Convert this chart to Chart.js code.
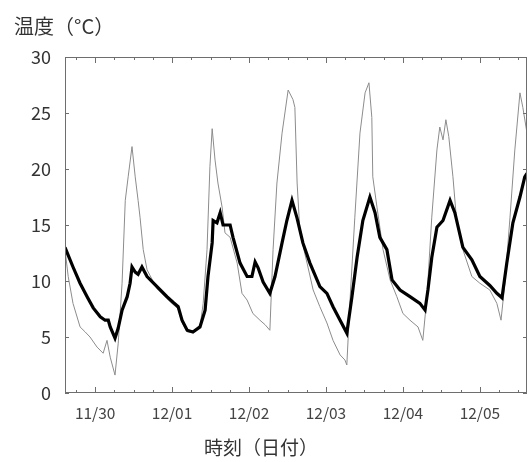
<!DOCTYPE html>
<html>
<head>
<meta charset="utf-8">
<script src="https://cdn.jsdelivr.net/npm/chart.js@4/dist/chart.umd.min.js"></script>
<style>
  body { margin: 0; background: #fff; }
  #wrap { position: relative; width: 529px; height: 462px; }
  .label { position: absolute; font-family: "Noto Sans CJK JP", sans-serif; color: #333; white-space: nowrap; }
  #yTitle { left: 14px; top: 11px; font-size: 20px; }
  #xTitle { left: 204px; top: 433px; font-size: 19px; }
</style>
</head>
<body>
<div id="wrap">
  <canvas id="tempChart"></canvas>
  <div class="label" id="yTitle">温度（°C）</div>
  <div class="label" id="xTitle">時刻（日付）</div>
</div>
<script>
// hours counted from 11/30 00:00
const dayTicks = [0, 24, 48, 72, 96, 120];
const dayLabels = ["11/30", "12/01", "12/02", "12/03", "12/04", "12/05"];
const yTicks = [0, 5, 10, 15, 20, 25, 30];

// thick black line
const roomHours = [-9.4, -6.9, -4.7, -2.5, -0.6, 1.6, 3.1, 4.1, 4.7, 6.2, 7.2, 8.4, 10.0, 10.9, 11.5, 12.5, 13.4, 14.6, 16.2, 19.3,
  22.4, 24.3, 25.9, 27.1, 28.7, 30.5, 32.7, 34.3, 35.2, 36.5, 36.8, 38.0, 39.0, 39.9, 42.1, 43.0, 45.2, 47.4, 48.9, 49.9,
  50.8, 52.4, 54.5, 56.1, 58.3, 59.8, 61.4, 62.0, 63.0, 64.8, 67.0, 70.1, 72.3, 74.2, 76.4, 78.5, 80.1, 81.7, 83.5, 85.7,
  87.3, 88.8, 91.0, 92.6, 95.1, 98.2, 101.3, 102.9, 103.8, 105.0, 106.6, 108.5, 110.7, 112.2, 114.7, 117.5, 120.0, 123.1, 125.3, 126.9,
  128.4, 130.3, 132.5, 134.0, 134.7];
const roomTemp = [13.0, 11.25, 9.8, 8.6, 7.6, 6.8, 6.5, 6.5, 5.9, 4.9, 5.8, 7.4, 8.6, 9.8, 11.25, 10.8, 10.6, 11.25, 10.4, 9.5,
  8.6, 8.1, 7.7, 6.5, 5.6, 5.45, 5.9, 7.4, 10.4, 13.4, 15.4, 15.2, 16.1, 15.0, 15.0, 13.9, 11.6, 10.4, 10.4, 11.7,
  11.2, 9.9, 8.9, 10.4, 13.4, 15.4, 17.2, 16.6, 15.6, 13.4, 11.6, 9.5, 8.9, 7.7, 6.5, 5.35, 8.6, 12.1, 15.4, 17.5,
  16.1, 13.9, 12.8, 10.1, 9.2, 8.6, 8.0, 7.4, 9.2, 12.1, 14.8, 15.4, 17.2, 16.1, 13.0, 11.9, 10.4, 9.6, 8.9, 8.5,
  11.6, 15.2, 17.5, 19.3, 19.6];

// thin grey line
const outsideHours = [-9.4, -8.4, -6.9, -4.7, -3.1, -1.6, 0.6, 2.5, 3.7, 4.7, 6.2, 7.2, 8.4, 9.4, 10.3, 11.5, 12.5, 13.4, 14.0, 15.0,
  16.2, 19.3, 22.4, 25.9, 27.1, 28.7, 30.5, 32.7, 33.7, 34.9, 35.8, 36.5, 37.4, 38.3, 39.6, 40.5, 42.1, 44.3, 45.8, 47.4,
  49.2, 51.4, 53.0, 54.5, 55.5, 56.7, 58.3, 60.2, 61.7, 62.3, 63.0, 63.9, 66.1, 68.0, 70.1, 72.3, 74.2, 76.4, 77.9, 78.5,
  79.5, 81.0, 82.6, 84.2, 85.4, 86.3, 86.6, 87.9, 89.8, 92.0, 94.1, 96.0, 98.2, 100.7, 102.2, 103.5, 105.0, 106.6, 107.5, 108.5,
  109.4, 110.3, 111.6, 112.8, 114.7, 117.5, 120.0, 123.1, 125.3, 126.6, 127.8, 129.4, 130.9, 132.5, 133.4, 134.7];
const outsideTemp = [12.8, 10.4, 8.0, 5.9, 5.45, 5.0, 4.1, 3.55, 4.7, 3.2, 1.6, 4.45, 9.8, 17.2, 19.3, 22.0, 19.3, 17.2, 15.7, 12.8,
  11.0, 9.3, 8.4, 7.5, 6.3, 5.45, 5.4, 5.9, 8.0, 12.8, 20.2, 23.6, 20.8, 18.75, 16.6, 14.3, 13.9, 11.6, 8.9, 8.3,
  7.1, 6.5, 6.1, 5.6, 12.8, 18.75, 23.2, 27.05, 26.2, 25.5, 18.75, 14.3, 11.6, 9.2, 7.7, 6.25, 4.7, 3.4, 2.95, 2.5,
  8.3, 15.7, 23.2, 26.8, 27.7, 24.6, 19.3, 16.6, 12.8, 10.1, 8.6, 7.1, 6.5, 5.9, 4.7, 8.6, 15.7, 21.7, 23.75, 22.6,
  24.4, 22.9, 19.3, 15.2, 12.8, 10.4, 9.8, 9.2, 8.0, 6.5, 9.8, 15.7, 21.7, 26.8, 25.5, 23.2];

function toPoints(hours, temps) {
    return hours.map((h, i) => ({ x: h, y: temps[i] }));
}

// frame with inward ticks on all four sides
const frameTicks = {
    id: "frameTicks",
    afterDatasetsDraw(chart) {
        const { ctx, chartArea: a, scales: { x, y } } = chart;
        ctx.save();
        ctx.strokeStyle = "#6e6e6e";
        ctx.lineWidth = 1;
        ctx.strokeRect(a.left + 0.5, a.top + 0.5, a.width - 1, a.height - 1);
        ctx.beginPath();
        for (let h = Math.ceil(x.min / 6) * 6; h <= x.max; h += 6) {
            const px = Math.round(x.getPixelForValue(h)) + 0.5;
            const len = h % 24 === 0 ? 6 : 3;
            ctx.moveTo(px, a.bottom); ctx.lineTo(px, a.bottom - len);
            ctx.moveTo(px, a.top); ctx.lineTo(px, a.top + len);
        }
        yTicks.forEach(v => {
            const py = Math.round(y.getPixelForValue(v)) + 0.5;
            ctx.moveTo(a.left, py); ctx.lineTo(a.left + 4, py);
            ctx.moveTo(a.right, py); ctx.lineTo(a.right - 4, py);
        });
        ctx.stroke();
        ctx.restore();
    }
};

const ctx = document.getElementById("tempChart").getContext("2d");
new Chart(ctx, {
    type: "line",
    data: {
        datasets: [
            {
                label: "thick",
                data: toPoints(roomHours, roomTemp),
                borderColor: "#000",
                borderWidth: 3.2,
                pointRadius: 0,
                tension: 0
            },
            {
                label: "thin",
                data: toPoints(outsideHours, outsideTemp),
                borderColor: "#8c8c8c",
                borderWidth: 1,
                pointRadius: 0,
                tension: 0
            }
        ]
    },
    options: {
        responsive: true,
        maintainAspectRatio: false,
        animation: false,
        layout: { padding: { top: 57, right: 2, left: 0, bottom: 0 } },
        plugins: {
            legend: { display: false },
            tooltip: { enabled: false }
        },
        scales: {
            x: {
                type: "linear",
                min: -9.4,
                max: 134.7,
                grid: { display: false, drawTicks: false },
                border: { display: false },
                afterBuildTicks: scale => {
                    scale.ticks = dayTicks.map(v => ({ value: v }));
                },
                afterFit: scale => { scale.height = 69; },
                ticks: {
                    autoSkip: false,
                    maxRotation: 0,
                    padding: 11,
                    color: "#444",
                    font: { family: "Noto Sans CJK JP", size: 15.5 },
                    callback: value => dayLabels[dayTicks.indexOf(value)]
                }
            },
            y: {
                min: 0,
                max: 30,
                grid: { display: false, drawTicks: false },
                border: { display: false },
                afterBuildTicks: scale => {
                    scale.ticks = yTicks.map(v => ({ value: v }));
                },
                afterFit: scale => { scale.width = 65; },
                ticks: {
                    padding: 14,
                    color: "#333",
                    font: { family: "Noto Sans CJK JP", size: 18 }
                }
            }
        }
    },
    plugins: [frameTicks]
});
</script>
</body>
</html>
